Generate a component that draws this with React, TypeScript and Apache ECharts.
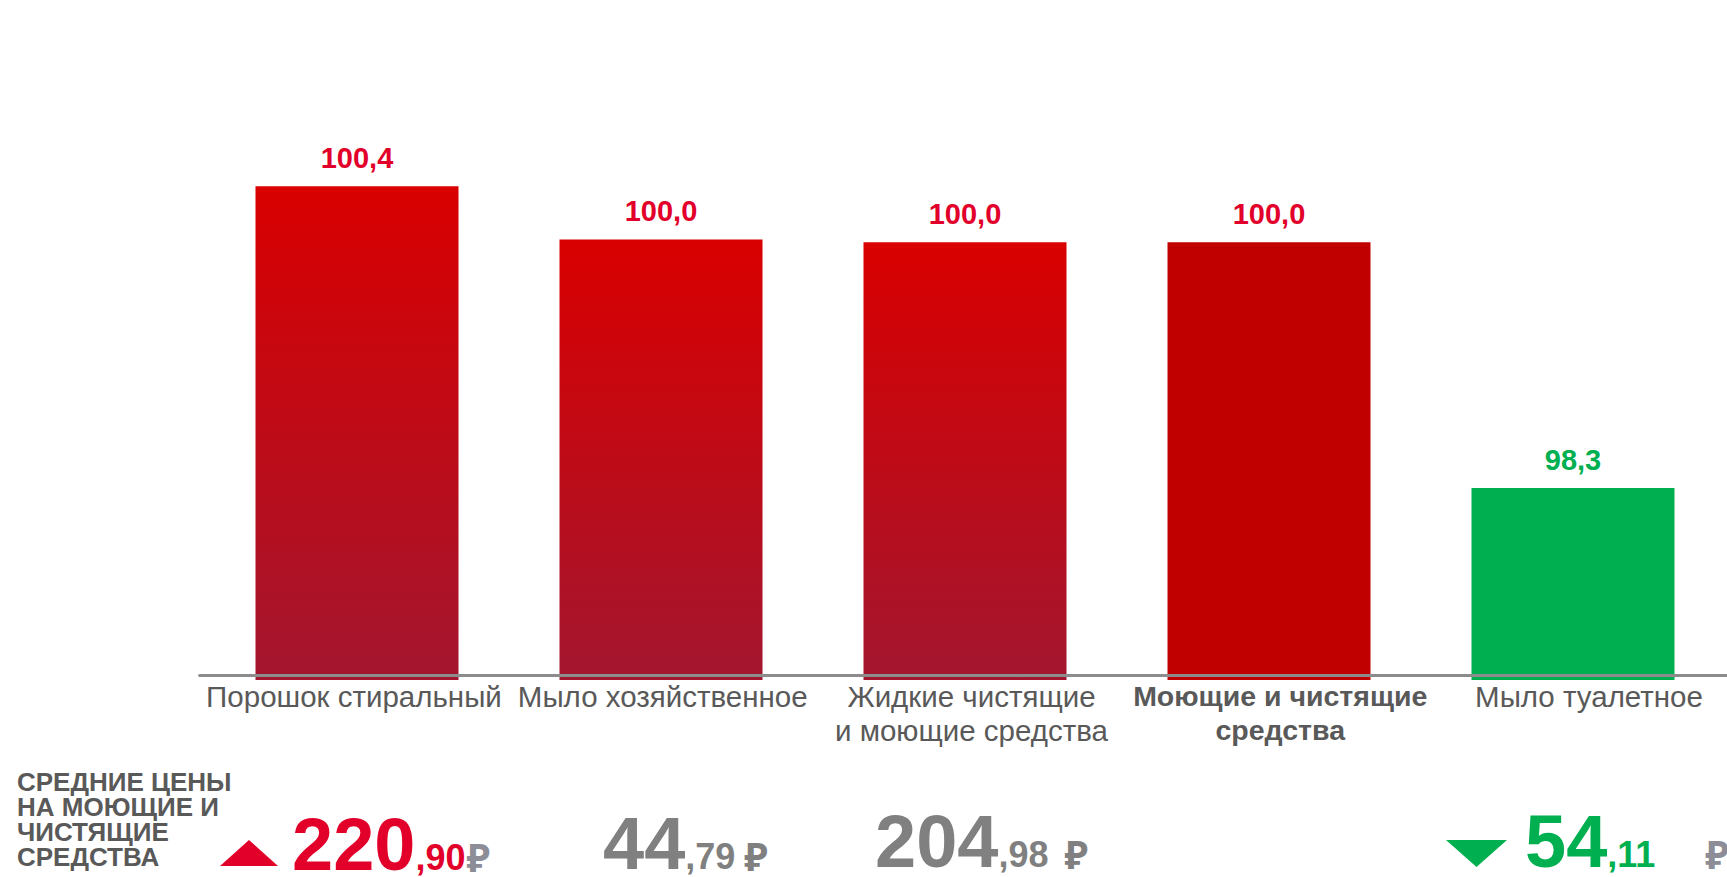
import React, { useEffect, useRef } from 'react';
import * as echarts from 'echarts';

// ---------- data ----------
const categories = [
  'Порошок стиральный',
  'Мыло хозяйственное',
  'Жидкие чистящие\nи моющие средства',
  'Моющие и чистящие\nсредства',
  'Мыло туалетное',
];
const indexValues = [100.4, 100.03, 100.01, 100.01, 98.3];
const highlightIndex = 3;
const priceWhole = ['220', '44', '204', '', '54'];
const priceCents = ['90', '79', '98', '', '11'];
const priceTrend = ['up', 'flat', 'flat', 'none', 'down'];
const summaryTitle = 'СРЕДНИЕ ЦЕНЫ\nНА МОЮЩИЕ И\nЧИСТЯЩИЕ\nСРЕДСТВА';

// ---------- styles / layout ----------
const FONT = '"Liberation Sans", Arial, sans-serif';
const RUB_FONT = '"Noto Sans", "DejaVu Sans", sans-serif';
const RED_TEXT = '#E2002A';
const GREEN = '#00B050';
const GRAY_LABEL = '#595959';
const GRAY_PRICE = '#808080';
const RUB_GRAY = '#8C8D96';
const AXIS_GRAY = '#8C8C8C';

const BIG = 74;
const SMALL = 36;
const RUB = 39;
const PAD = 5;
const tokH = (fs: number) => 2 * (0.3465 * fs + PAD);

// left x and baseline y of each price block, plus trend triangle box
const priceLayout = [
  { x: 292, base: 870, tri: [220, 840, 278, 866], rubPad: 1 },
  { x: 603, base: 869, tri: null, rubPad: 9 },
  { x: 875, base: 867, tri: null, rubPad: 16 },
  { x: 0, base: 0, tri: null, rubPad: 0 },
  { x: 1525, base: 867, tri: [1446, 840, 1507, 867], rubPad: 50 },
];

function barColor(i: number, v: number): any {
  if (v < 100) return GREEN;
  if (i === highlightIndex) return '#C00000';
  return new echarts.graphic.LinearGradient(0, 0, 0, 1, [
    { offset: 0, color: '#D90000' },
    { offset: 1, color: '#A3162F' },
  ]);
}

function buildGraphic() {
  const els: any[] = [];
  els.push({
    type: 'text',
    x: 17,
    y: 769,
    style: {
      text: summaryTitle,
      font: `bold 26px ${FONT}`,
      fill: GRAY_LABEL,
      lineHeight: 25,
      align: 'left',
      verticalAlign: 'top',
    },
  });
  priceWhole.forEach((w, i) => {
    if (!w) return;
    const trend = priceTrend[i];
    const lay = priceLayout[i];
    const col = trend === 'up' ? RED_TEXT : trend === 'down' ? GREEN : GRAY_PRICE;
    const rubCol = trend === 'flat' ? GRAY_PRICE : RUB_GRAY;
    if (lay.tri) {
      const [x0, y0, x1, y1] = lay.tri;
      const pts =
        trend === 'up'
          ? [[x0, y1], [(x0 + x1) / 2, y0], [x1, y1]]
          : [[x0, y0], [x1, y0], [(x0 + x1) / 2, y1]];
      els.push({ type: 'polygon', shape: { points: pts }, style: { fill: col } });
    }
    els.push({
      type: 'text',
      x: lay.x,
      y: lay.base + PAD,
      style: {
        text: `{big|${w}}{small|,${priceCents[i]}}{rub|₽}`,
        align: 'left',
        verticalAlign: 'bottom',
        rich: {
          big: { fontSize: BIG, fontWeight: 'bold', fontFamily: FONT, fill: col, height: tokH(BIG), verticalAlign: 'bottom' },
          small: { fontSize: SMALL, fontWeight: 'bold', fontFamily: FONT, fill: col, height: tokH(SMALL), verticalAlign: 'bottom' },
          rub: {
            fontSize: RUB,
            fontWeight: 'bold',
            fontFamily: RUB_FONT,
            fill: rubCol,
            height: tokH(RUB),
            verticalAlign: 'bottom',
            padding: [0, 0, 0, lay.rubPad],
          },
        },
      },
    });
  });
  return els;
}

export default function App() {
  const ref = useRef<HTMLDivElement>(null);
  useEffect(() => {
    if (!ref.current) return;
    const chart = echarts.init(ref.current, null, { renderer: 'svg' });
    chart.setOption({
      animation: false,
      backgroundColor: '#ffffff',
      grid: [
        { left: 205, right: 2, top: 100, bottom: 197, outerBoundsMode: 'none', containLabel: false },
        { left: 199.6, width: 1543.75, top: 100, bottom: 202, outerBoundsMode: 'none', containLabel: false },
      ],
      xAxis: [
        {
          type: 'category',
          gridIndex: 0,
          data: categories,
          axisLine: { show: false },
          axisTick: { show: false },
          axisLabel: { show: false },
        },
        {
          type: 'category',
          gridIndex: 1,
          z: 5,
          data: categories.map((c, i) =>
            i === highlightIndex
              ? { value: c, textStyle: { fontWeight: 'bold', fontSize: 28.5 } }
              : c
          ),
          axisLine: { show: true, onZero: false, lineStyle: { color: AXIS_GRAY, width: 3 } },
          axisTick: { show: false },
          axisLabel: {
            interval: 0,
            margin: 4,
            fontSize: 29.5,
            lineHeight: 34,
            color: GRAY_LABEL,
            fontFamily: FONT,
          },
        },
      ],
      yAxis: [
        { type: 'value', gridIndex: 0, min: 96.965, max: 101, show: false },
        { type: 'value', gridIndex: 1, min: 0, max: 1, show: false },
      ],
      series: [
        {
          type: 'bar',
          xAxisIndex: 0,
          yAxisIndex: 0,
          barWidth: 203,
          data: indexValues.map((v, i) => ({
            value: v,
            itemStyle: { color: barColor(i, v) },
            label: { color: v < 100 ? GREEN : RED_TEXT },
          })),
          label: {
            show: true,
            position: 'top',
            distance: 14,
            fontSize: 29,
            fontWeight: 'bold',
            fontFamily: FONT,
            formatter: (p: any) => Number(p.value).toFixed(1).replace('.', ','),
          },
        },
      ],
      graphic: buildGraphic(),
    });
    return () => chart.dispose();
  }, []);
  return (
    <div
      ref={ref}
      style={{ position: 'absolute', left: 0, top: 0, width: 1727, height: 877 }}
    />
  );
}
